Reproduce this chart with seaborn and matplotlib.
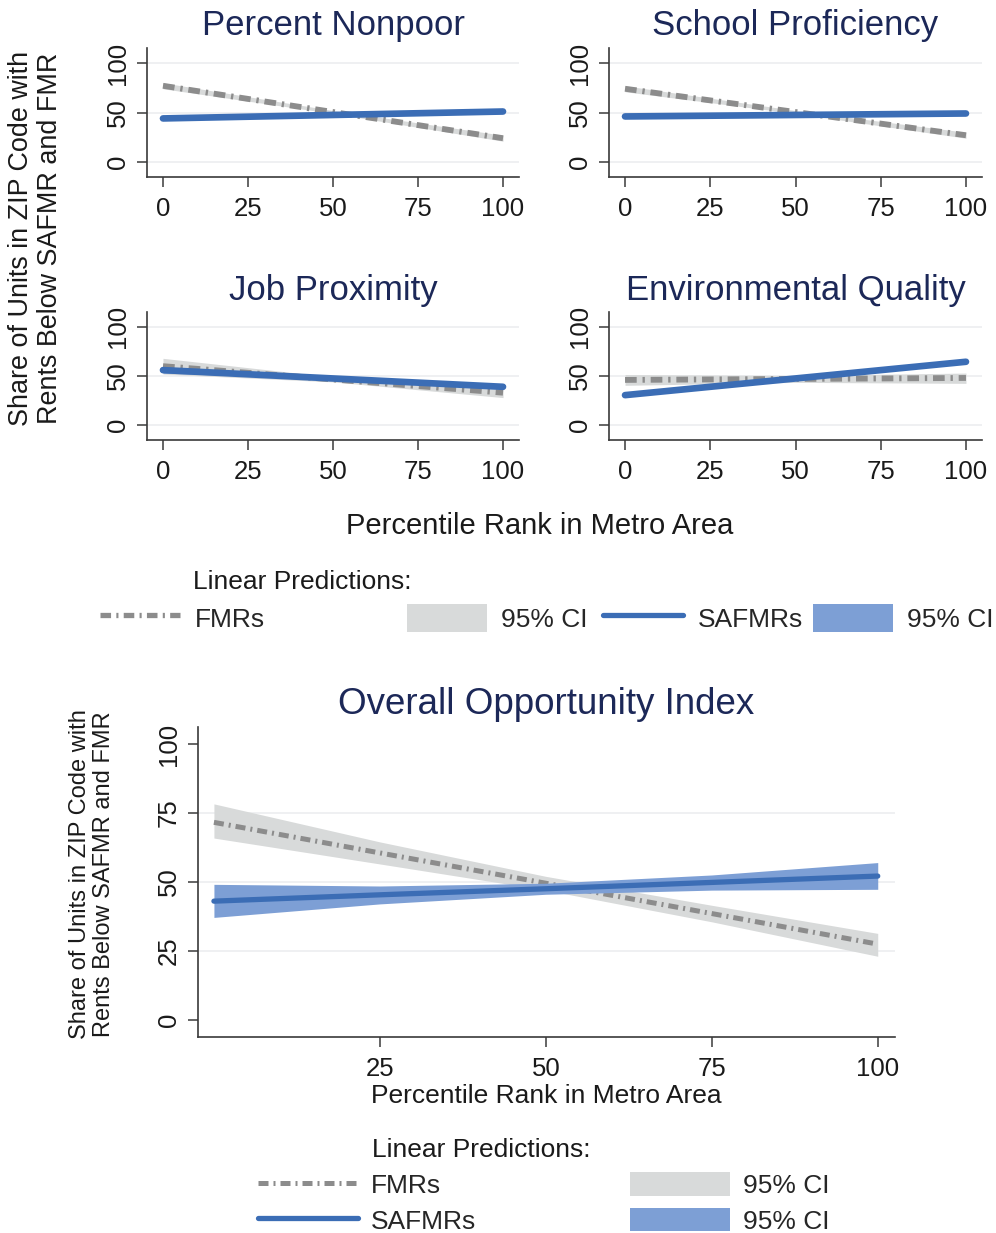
import numpy as np
import pandas as pd
import matplotlib
matplotlib.use("Agg")
import matplotlib.pyplot as plt
from matplotlib.lines import Line2D
from matplotlib.patches import Patch
import seaborn as sns

# ---- data -------------------------------------------------------------
# percentile ranks at which the linear predictions are reported
pct_small = [0, 50, 100]
pct_big = [0, 25, 50, 75, 100]

panel_titles = ["Percent Nonpoor", "School Proficiency",
                "Job Proximity", "Environmental Quality"]

# FMR predictions (fit, lower CI, upper CI) for the four index components
fmr_fit = [[77, 50.5, 24], [74, 50.5, 27], [60, 46.5, 33], [46, 47, 48]]
fmr_lo = [[74, 49, 21], [71, 49, 24], [52, 44, 28], [40.5, 43.5, 42.5]]
fmr_hi = [[80, 52, 27], [77, 52, 30], [68, 49, 38], [51.5, 50.5, 53]]

# SAFMR predictions (fit, lower CI, upper CI) for the four index components
saf_fit = [[44, 47.5, 51], [46, 47.5, 49], [56, 47.5, 39], [30.5, 47.5, 64.5]]
saf_lo = [[42, 46.5, 49], [44.5, 46.7, 47.5], [53, 46.5, 37], [29, 46.5, 63]]
saf_hi = [[46, 48.5, 53], [47.5, 48.3, 50.5], [59, 48.5, 41], [32, 48.5, 66]]

# Overall opportunity index
overall_fmr_fit = [71.6, 60.5, 49.5, 38.5, 27.4]
overall_fmr_lo = [65.9, 56.5, 47.0, 35.5, 23.0]
overall_fmr_hi = [78.3, 64.5, 52.0, 41.5, 31.3]
overall_saf_fit = [43.0, 45.3, 47.5, 49.8, 52.1]
overall_saf_lo = [37.1, 42.0, 45.5, 47.0, 47.3]
overall_saf_hi = [49.1, 48.5, 49.5, 52.5, 57.0]

small_xticks = [0, 25, 50, 75, 100]
small_yticks = [0, 50, 100]
big_xticks = [25, 50, 75, 100]
big_yticks = [0, 25, 50, 75, 100]

xlabel = "Percentile Rank in Metro Area"
ylabel = "Share of Units in ZIP Code with\nRents Below SAFMR and FMR"
legend_title = "Linear Predictions:"

# ---- style ------------------------------------------------------------
sns.set_theme(style="white")
plt.rcParams["font.family"] = ["Liberation Sans", "DejaVu Sans"]

NAVY = "#1c2858"
BLUE = "#3b6db5"
BLUE_CI = "#7d9fd5"
GRAY = "#8c8c8c"
GRAY_CI = "#d8dada"
AXIS = "#3a3a3a"
GRID = "#eceef0"
FMR_DASH = (0, (2.0, 1.0, 0.4, 1.0))

W, H = 996, 1233
fig = plt.figure(figsize=(W / 100, H / 100), dpi=100)


def px_axes(left, top, right, bottom):
    return fig.add_axes([left / W, 1 - bottom / H, (right - left) / W, (bottom - top) / H])


def style_axes(ax, xticks, yticks, xlim, ylim, tick_size):
    ax.set_xlim(*xlim)
    ax.set_ylim(*ylim)
    ax.set_xticks(xticks)
    ax.set_yticks(yticks)
    for s in ["top", "right"]:
        ax.spines[s].set_visible(False)
    for s in ["left", "bottom"]:
        ax.spines[s].set_color(AXIS)
        ax.spines[s].set_linewidth(1.2)
    ax.tick_params(axis="both", direction="out", length=7.5, width=1.1,
                   color=AXIS, labelsize=tick_size, labelcolor="#1a1a1a",
                   bottom=True, left=True, pad=5)
    ax.tick_params(axis="x", pad=7)
    for lab in ax.get_yticklabels():
        lab.set_rotation(90)
        lab.set_va("center")
    ax.yaxis.grid(True, color=GRID, lw=1.2, zorder=0)
    ax.xaxis.grid(False)
    ax.set_axisbelow(True)
    ax.set_xlabel("")
    ax.set_ylabel("")


def draw_pair(ax, x, f, f_lo, f_hi, s, s_lo, s_hi, lw_s, lw_f):
    ax.fill_between(x, f_lo, f_hi, color=GRAY_CI, lw=0, zorder=2)
    sns.lineplot(x=x, y=f, ax=ax, color=GRAY, lw=lw_f, linestyle=FMR_DASH,
                 zorder=3)
    ax.fill_between(x, s_lo, s_hi, color=BLUE_CI, lw=0, zorder=4)
    sns.lineplot(x=x, y=s, ax=ax, color=BLUE, lw=lw_s,
                 solid_capstyle="round", zorder=5)


# ---- four component panels -------------------------------------------
boxes = [(147, 48, 519, 177), (609, 48, 982, 177),
         (147, 312, 519, 440), (609, 312, 982, 440)]
for i, box in enumerate(boxes):
    ax = px_axes(*box)
    draw_pair(ax, pct_small, fmr_fit[i], fmr_lo[i], fmr_hi[i],
              saf_fit[i], saf_lo[i], saf_hi[i], lw_s=4.8, lw_f=4.2)
    style_axes(ax, small_xticks, small_yticks, (-4.7, 104.7), (-15.2, 115.2), 18.5)
    ax.set_title(panel_titles[i], fontsize=25, color=NAVY, pad=9)

fig.text(540 / W, 1 - 526 / H, xlabel, fontsize=21, ha="center", va="center",
         color="#1a1a1a")
fig.text(36 / W, 1 - 238 / H, ylabel, fontsize=19.4, ha="center", va="center",
         rotation=90, linespacing=1.15, color="#1a1a1a")

# ---- legend for the component panels ----------------------------------
fig.text(193 / W, 1 - 582 / H, legend_title, fontsize=19, ha="left",
         va="center", color="#1a1a1a")
h_fmr = Line2D([], [], color=GRAY, lw=3.8, linestyle=FMR_DASH)
h_saf = Line2D([], [], color=BLUE, lw=3.8)
h_gci = Patch(facecolor=GRAY_CI, edgecolor="none")
h_bci = Patch(facecolor=BLUE_CI, edgecolor="none")
top_entries = [(h_fmr, "FMRs", 100), (h_gci, "95% CI", 407),
               (h_saf, "SAFMRs", 603), (h_bci, "95% CI", 813)]
for handle, label, xpos in top_entries:
    fig.legend([handle], [label], loc="center left",
               bbox_to_anchor=(xpos / W, 1 - 618 / H), frameon=False,
               fontsize=19, handlelength=3.03, handleheight=1.25,
               handletextpad=0.55, borderpad=0, borderaxespad=0)

# ---- overall opportunity index ---------------------------------------
axb = px_axes(198, 727, 895, 1037)
draw_pair(axb, pct_big, overall_fmr_fit, overall_fmr_lo, overall_fmr_hi,
          overall_saf_fit, overall_saf_lo, overall_saf_hi, lw_s=3.8, lw_f=3.6)
style_axes(axb, big_xticks, big_yticks, (-2.4, 102.6), (-6.3, 106.2), 18.5)
grid = axb.get_ygridlines()
grid[0].set_visible(False)
grid[-1].set_visible(False)
axb.set_title("Overall Opportunity Index", fontsize=26.5, color=NAVY, pad=9)
axb.set_xlabel(xlabel, fontsize=19, color="#1a1a1a", labelpad=2)

fig.text(92 / W, 1 - 874 / H, ylabel, fontsize=17, ha="center", va="center",
         rotation=90, linespacing=1.15, color="#1a1a1a")

fig.text(372 / W, 1 - 1150 / H, legend_title, fontsize=19, ha="left",
         va="center", color="#1a1a1a")
h_fmr2 = Line2D([], [], color=GRAY, lw=3.6, linestyle=FMR_DASH)
h_saf2 = Line2D([], [], color=BLUE, lw=3.8)
fig.legend([h_fmr2, h_saf2], ["FMRs", "SAFMRs"], loc="center left",
           bbox_to_anchor=(258 / W, 1 - 1203 / H), frameon=False, fontsize=19,
           handlelength=3.79, handleheight=1.0, handletextpad=0.5,
           labelspacing=0.36, borderpad=0, borderaxespad=0)
fig.legend([h_gci, h_bci], ["95% CI", "95% CI"], loc="center left",
           bbox_to_anchor=(630 / W, 1 - 1203 / H), frameon=False, fontsize=19,
           handlelength=3.79, handleheight=1.0, handletextpad=0.5,
           labelspacing=0.36, borderpad=0, borderaxespad=0)

fig.savefig("out.png", dpi=100, facecolor="white")
